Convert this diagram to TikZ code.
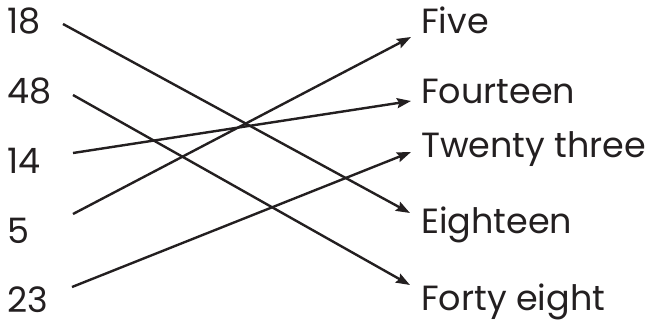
\documentclass[tikz,border=0pt]{standalone}
\usepackage{fontspec}
\setmainfont{Poppins}
\usetikzlibrary{arrows.meta}
\definecolor{ink}{HTML}{231F20}
\tikzset{
  lbl/.style={anchor=base west, inner sep=0pt, text=ink, font=\fontsize{35}{40}\selectfont},
  link/.style={draw=ink, line width=2.4pt, -{Stealth[length=14pt,width=10pt,inset=2pt]}}
}
\begin{document}
\begin{tikzpicture}[x=1pt,y=-1pt]
\useasboundingbox (0,0) rectangle (653,324);
\node[lbl] (n18) at (7,33) {18};
\node[lbl] (n48) at (7,103) {48};
\node[lbl] (n14) at (7,173) {14};
\node[lbl] (n5)  at (7,243) {5};
\node[lbl] (n23) at (7,312) {23};
\node[lbl] (five) at (421,33) {Five};
\node[lbl] (fourteen) at (421,103) {Fourteen};
\node[lbl] (twentythree) at (421,157) {Twenty three};
\node[lbl] (eighteen) at (421,233) {Eighteen};
\node[lbl] (fortyeight) at (421,310) {Forty eight};
\coordinate (s18) at (63,24);
\coordinate (s48) at (73,95);
\coordinate (s14) at (73,153);
\coordinate (s5) at (73,214);
\coordinate (s23) at (72,287);
\coordinate (e5) at (411,37);
\coordinate (e14) at (411,101);
\coordinate (e23) at (411,152);
\coordinate (e18) at (410,213);
\coordinate (e48) at (410,285);
\draw[link] (s18) -- (e18);
\draw[link] (s48) -- (e48);
\draw[link] (s14) -- (e14);
\draw[link] (s5) -- (e5);
\draw[link] (s23) -- (e23);
\end{tikzpicture}
\end{document}
